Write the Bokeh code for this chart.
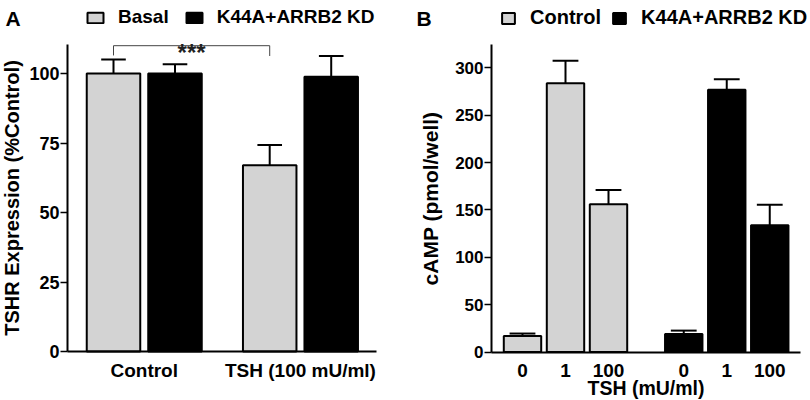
from bokeh.plotting import figure
from bokeh.models import (FixedTicker, Legend, LegendItem, Label, Range1d)
from bokeh.layouts import row
from bokeh.embed import file_html
from bokeh.resources import INLINE

# ---------------- Panel A data ----------------
a_groups = ["Control", "TSH (100 mU/ml)"]
a_series = ["Basal", "K44A+ARRB2 KD"]
a_basal = [100.0, 67.0]
a_basal_sem = [5.0, 7.3]
a_kd = [100.0, 98.8]
a_kd_sem = [3.3, 7.5]
a_yticks = [0, 25, 50, 75, 100]
a_ylabel = "TSHR Expression (%Control)"
a_sig = "***"

# ---------------- Panel B data ----------------
b_tsh = ["0", "1", "100"]
b_series = ["Control", "K44A+ARRB2 KD"]
b_control = [17.0, 284.0, 156.0]
b_control_sem = [2.5, 23.6, 15.0]
b_kd = [19.0, 277.0, 134.0]
b_kd_sem = [3.6, 11.0, 21.5]
b_yticks = [0, 50, 100, 150, 200, 250, 300]
b_ylabel = "cAMP (pmol/well)"
b_xlabel = "TSH (mU/ml)"

FONT = "Liberation Sans"
GRAY = "#d3d3d3"
BLACK = "#000000"
W, H = 405, 400


def style_axes(p):
    p.grid.visible = False
    p.outline_line_color = None
    p.min_border_left = p.min_border_right = 0
    p.min_border_top = p.min_border_bottom = 0
    for ax in (p.xaxis[0], p.yaxis[0]):
        ax.axis_line_width = 2
        ax.axis_line_color = BLACK
        ax.major_tick_line_width = 1.5
        ax.major_tick_line_color = BLACK
        ax.minor_tick_line_color = None
        ax.major_tick_in = 0
        ax.major_label_text_font = FONT
        ax.major_label_text_font_style = "bold"
        ax.major_label_text_color = BLACK
        ax.axis_label_text_font = FONT
        ax.axis_label_text_font_style = "bold"
        ax.axis_label_text_color = BLACK
    p.xaxis.major_tick_out = 0
    p.xaxis.major_tick_line_color = None
    p.yaxis.major_tick_out = 7


def bars_with_err(p, xs, vals, sems, color, half_cap, bw):
    r = p.vbar(x=xs, top=vals, bottom=0, width=bw, fill_color=color,
               line_color=BLACK, line_width=2)
    tops = [v + e for v, e in zip(vals, sems)]
    p.segment(x0=xs, y0=vals, x1=xs, y1=tops, line_color=BLACK, line_width=2)
    p.segment(x0=[x - half_cap for x in xs], y0=tops,
              x1=[x + half_cap for x in xs], y1=tops,
              line_color=BLACK, line_width=2)
    return r


def make_legend(items, loc, gw, gh, standoff, spacing, fs):
    return Legend(items=items, location=loc, orientation="horizontal",
                  glyph_width=gw, glyph_height=gh, label_standoff=standoff,
                  spacing=spacing, padding=0, margin=0,
                  border_line_color=None, background_fill_alpha=0,
                  label_text_font=FONT, label_text_font_size=fs,
                  label_text_font_style="bold", label_text_color=BLACK)


def panel_letter(p, x0, y1, text, dx, dy):
    p.add_layout(Label(x=x0, y=y1, text=text, x_offset=dx, y_offset=dy,
                       text_align="left", text_baseline="alphabetic",
                       text_font=FONT, text_font_size="21px",
                       text_font_style="bold", text_color=BLACK))


# ================= Panel A =================
PXA, PYA = 61.5, 2.78          # pixels per data unit
GAP_A = 2.54
a_x_basal = [g * GAP_A - 0.5 for g in range(len(a_groups))]
a_x_kd = [g * GAP_A + 0.5 for g in range(len(a_groups))]
ax0 = -143.75 / PXA
ay0 = -(H - 351) / PYA
pa = figure(width=W, height=H, output_backend="svg", toolbar_location=None,
            x_range=Range1d(ax0, ax0 + W / PXA), y_range=Range1d(ay0, ay0 + H / PYA))
ra1 = bars_with_err(pa, a_x_basal, a_basal, a_basal_sem, GRAY, 0.2, 0.87)
ra2 = bars_with_err(pa, a_x_kd, a_kd, a_kd_sem, BLACK, 0.2, 0.87)

# significance bracket
bx0, bx1 = a_x_basal[0], a_x_basal[1]
BY = 110.0
pa.segment(x0=[bx0, bx0, bx1], y0=[BY, BY, BY], x1=[bx1, bx0, bx1],
           y1=[BY, 106.5, 106.3], line_color="#444444", line_width=1)
pa.add_layout(Label(x=(bx0 + bx1) / 2, y=BY, text=a_sig, text_align="center",
                    text_baseline="alphabetic", y_offset=-7,
                    text_font=FONT, text_font_size="24px",
                    text_font_style="bold", text_color="#222222"))

style_axes(pa)
a_yaxis_x = ax0 + 67 / PXA
pa.yaxis.fixed_location = a_yaxis_x
pa.yaxis.bounds = (0, 110.4)
pa.xaxis.fixed_location = 0
pa.xaxis.bounds = (a_yaxis_x, ax0 + 376 / PXA)
pa.xaxis.ticker = FixedTicker(ticks=[g * GAP_A for g in range(len(a_groups))])
pa.xaxis.major_label_overrides = {g * GAP_A: name for g, name in enumerate(a_groups)}
pa.xaxis.major_label_text_font_size = "19px"
pa.xaxis.major_label_standoff = 8
pa.yaxis.ticker = FixedTicker(ticks=a_yticks)
pa.yaxis.major_label_text_font_size = "18px"
pa.yaxis.major_label_standoff = 1
pa.yaxis.axis_label = a_ylabel
pa.yaxis.axis_label_text_font_size = "20px"
pa.yaxis.axis_label_standoff = 3

pa.add_layout(make_legend([LegendItem(label=a_series[0], renderers=[ra1]),
                           LegendItem(label=a_series[1], renderers=[ra2])],
                          (85, 372), 20, 13, 13, 15, "19px"))
panel_letter(pa, ax0, ay0 + H / PYA, "A", 5, -18)

# ================= Panel B =================
PXB, PYB = 43.0, 0.9467
GAP_B = 1.75
b_x_ctrl = [float(i) for i in range(len(b_tsh))]
b_x_kd = [i + len(b_tsh) - 1 + GAP_B for i in range(len(b_tsh))]
bx_0 = -117 / PXB
by_0 = -(H - 351.5) / PYB
pb = figure(width=W, height=H, output_backend="svg", toolbar_location=None,
            x_range=Range1d(bx_0, bx_0 + W / PXB), y_range=Range1d(by_0, by_0 + H / PYB))
rb1 = bars_with_err(pb, b_x_ctrl, b_control, b_control_sem, GRAY, 0.3, 0.87)
rb2 = bars_with_err(pb, b_x_kd, b_kd, b_kd_sem, BLACK, 0.3, 0.87)

style_axes(pb)
b_yaxis_x = bx_0 + 86 / PXB
pb.yaxis.fixed_location = b_yaxis_x
pb.yaxis.bounds = (0, 325)
pb.xaxis.fixed_location = 0
pb.xaxis.bounds = (b_yaxis_x, bx_0 + 395 / PXB)
b_ticks = b_x_ctrl + b_x_kd
pb.xaxis.ticker = FixedTicker(ticks=b_ticks)
pb.xaxis.major_label_overrides = {t: lab for t, lab in zip(b_ticks, b_tsh + b_tsh)}
pb.xaxis.major_label_text_font_size = "19px"
pb.xaxis.major_label_standoff = 12
pb.xaxis.axis_label = b_xlabel
pb.xaxis.axis_label_text_font_size = "19.5px"
pb.xaxis.axis_label_standoff = -4
pb.yaxis.ticker = FixedTicker(ticks=b_yticks)
pb.yaxis.major_label_text_font_size = "17px"
pb.yaxis.major_label_standoff = 1
pb.yaxis.axis_label = b_ylabel
pb.yaxis.axis_label_text_font_size = "21px"
pb.yaxis.axis_label_standoff = 10

pb.add_layout(make_legend([LegendItem(label=b_series[0], renderers=[rb1]),
                           LegendItem(label=b_series[1], renderers=[rb2])],
                          (95, 371), 16, 14, 14, 10, "20px"))
panel_letter(pb, bx_0, by_0 + H / PYB, "B", 11, -18)

layout = row(pa, pb)
open("out.html", "w").write(file_html(layout, INLINE))
